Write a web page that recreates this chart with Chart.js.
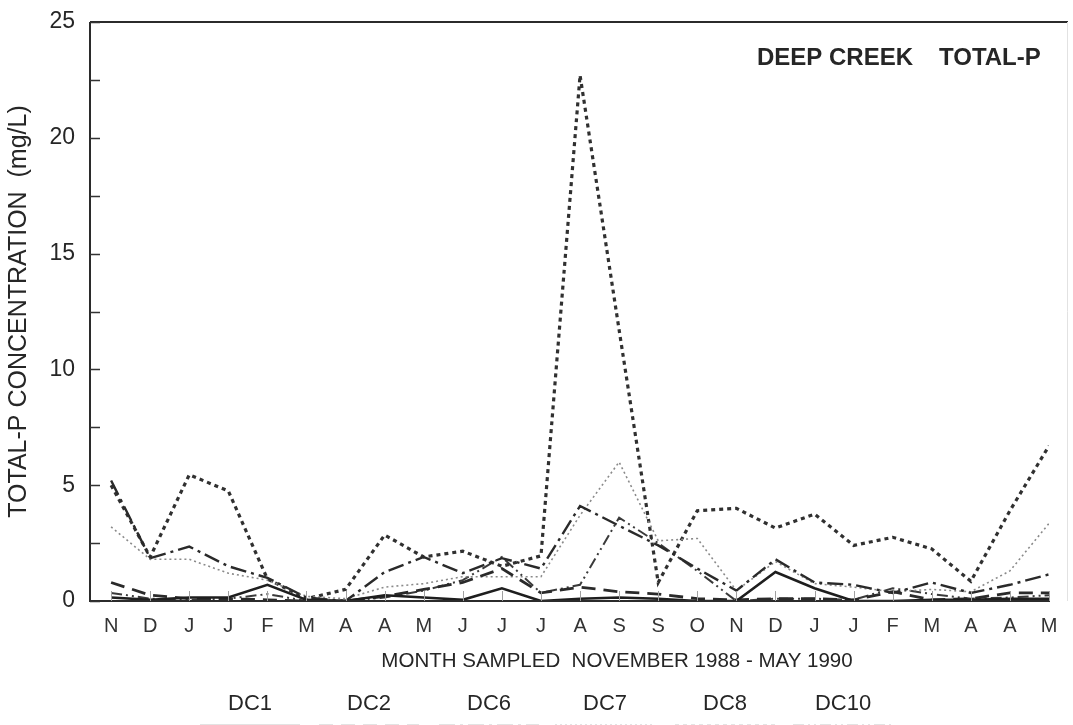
<!DOCTYPE html>
<html>
<head>
<meta charset="utf-8">
<title>Deep Creek Total-P</title>
<script src="https://cdn.jsdelivr.net/npm/chart.js@4.4.1/dist/chart.umd.min.js"></script>
<style>
  html, body { margin: 0; padding: 0; background: #ffffff; }
  #wrap { width: 1073px; height: 725px; position: relative; overflow: hidden; }
</style>
</head>
<body>
<div id="wrap"><canvas id="chart" width="1073" height="725"></canvas></div>
<script>
// Sampling months, November 1988 - May 1990
const months = ['N','D','J','J','F','M','A','A','M','J','J','J','A','S','S','O','N','D','J','J','F','M','A','A','M'];

// Total-P concentration (mg/L) per station
const dc1  = [0.15,0.05,0.15,0.15,0.7,0.05,0.0,0.25,0.15,0.05,0.55,0.0,0.1,0.15,0.1,0.0,0.0,1.25,0.55,0.0,0.0,0.05,0.05,0.1,0.1];
const dc2  = [0.8,0.25,0.1,0.1,0.05,0.0,0.0,0.2,0.5,0.8,1.4,0.35,0.6,0.4,0.3,0.1,0.05,0.1,0.1,0.05,0.4,0.05,0.1,0.35,0.35];
const dc6  = [5.2,1.85,2.35,1.5,1.0,0.15,0.0,1.25,1.9,1.2,1.85,1.4,4.1,3.25,2.4,1.4,0.45,1.8,0.8,0.7,0.35,0.8,0.35,0.7,1.15];
const dc7  = [3.2,1.8,1.8,1.2,0.9,0.2,0.1,0.6,0.75,1.05,1.05,1.05,3.7,6.0,2.6,2.7,0.45,1.7,0.75,0.6,0.4,0.5,0.4,1.3,3.35];
const dc8  = [5.0,1.9,5.45,4.75,0.95,0.1,0.5,2.85,1.9,2.15,1.5,1.95,22.7,11.7,0.8,3.9,4.0,3.15,3.75,2.4,2.75,2.25,0.85,3.9,6.7];
const dc10 = [0.35,0.1,0.05,0.1,0.3,0.0,0.0,0.15,0.45,0.9,1.9,0.35,0.7,3.6,2.5,1.3,0.0,0.1,0.1,0.05,0.55,0.3,0.1,0.15,0.25];

const stationNames = ['DC1','DC2','DC6','DC7','DC8','DC10'];
const yTicks = [0, 5, 10, 15, 20, 25];

const FONT = '"Liberation Sans", Arial, Helvetica, sans-serif';
const INK = '#262626';

function pts(arr) { return arr.map((v, i) => ({ x: i, y: v })); }

const styles = [
  { data: dc1,  color: '#1e1e1e', width: 2.6, dash: [] },
  { data: dc2,  color: '#2a2a2a', width: 2.8, dash: [14, 8] },
  { data: dc6,  color: '#2a2a2a', width: 2.4, dash: [16, 5, 3, 5] },
  { data: dc7,  color: '#8a8a8a', width: 1.6, dash: [2, 3] },
  { data: dc8,  color: '#303030', width: 3.2, dash: [4, 4] },
  { data: dc10, color: '#3a3a3a', width: 2.0, dash: [11, 4, 2, 4, 2, 4] }
];

const datasets = styles.map((s, k) => ({
  label: stationNames[k],
  data: pts(s.data),
  borderColor: s.color,
  borderWidth: s.width,
  borderDash: s.dash,
  borderCapStyle: 'butt',
  borderJoinStyle: 'miter',
  pointRadius: 0,
  tension: 0,
  fill: false
}));

// Frame, inward tick marks, heading and station key
const decorations = {
  id: 'decorations',
  afterDraw(chart) {
    const { ctx, chartArea: a, scales } = chart;
    const x = scales.x, y = scales.y;
    ctx.save();
    ctx.strokeStyle = '#2b2b2b';
    ctx.lineWidth = 2;
    ctx.beginPath();
    ctx.moveTo(a.left, a.top);
    ctx.lineTo(a.left, a.bottom);
    ctx.lineTo(a.right + 1, a.bottom);
    ctx.moveTo(a.left, a.top);
    ctx.lineTo(1068, a.top);
    ctx.stroke();
    ctx.strokeStyle = '#e2e2e2';
    ctx.lineWidth = 1;
    ctx.beginPath();
    ctx.moveTo(1067.5, a.top);
    ctx.lineTo(1067.5, a.bottom);
    ctx.stroke();

    // y ticks: majors every 5, minors every 2.5
    ctx.strokeStyle = '#333';
    ctx.lineWidth = 1.5;
    ctx.beginPath();
    for (let v = 0; v <= 25; v += 2.5) {
      const py = Math.round(y.getPixelForValue(v)) + 0.5;
      ctx.moveTo(a.left, py);
      ctx.lineTo(a.left + 10, py);
    }
    ctx.stroke();

    // x ticks
    ctx.strokeStyle = '#a0a0a0';
    ctx.lineWidth = 1;
    ctx.beginPath();
    months.forEach((m, i) => {
      const px = Math.round(x.getPixelForValue(i)) + 0.5;
      ctx.moveTo(px, a.bottom);
      ctx.lineTo(px, a.bottom - 10);
    });
    ctx.stroke();

    // heading
    ctx.fillStyle = INK;
    ctx.font = 'bold 24px ' + FONT;
    ctx.textBaseline = 'middle';
    ctx.textAlign = 'left';
    ctx.fillText('DEEP CREEK', 757, 58);
    ctx.fillText('TOTAL-P', 939, 58);

    // axis title under months
    ctx.font = '20.5px ' + FONT;
    ctx.textAlign = 'center';
    ctx.fillText('MONTH SAMPLED  NOVEMBER 1988 - MAY 1990', 617, 661);

    // station key
    const keyX = [250, 369, 489, 605, 725, 843];
    chart.data.datasets.forEach((ds, k) => {
      ctx.fillStyle = INK;
      ctx.font = '22px ' + FONT;
      ctx.textAlign = 'center';
      ctx.fillText(ds.label, keyX[k], 704);
      ctx.strokeStyle = '#c8c8c8';
      ctx.lineWidth = 2;
      ctx.setLineDash(ds.borderDash);
      ctx.beginPath();
      ctx.moveTo(keyX[k] - 50, 725.5);
      ctx.lineTo(keyX[k] + 50, 725.5);
      ctx.stroke();
      ctx.setLineDash([]);
    });
    ctx.restore();
  }
};

function zeroPad(s) {
  s.paddingTop = 0; s.paddingBottom = 0; s.paddingLeft = 0; s.paddingRight = 0;
}

new Chart(document.getElementById('chart'), {
  type: 'line',
  data: { datasets },
  options: {
    responsive: false,
    animation: false,
    devicePixelRatio: 1,
    layout: { padding: { left: 0, top: 22, right: 24, bottom: 0 } },
    plugins: { legend: { display: false }, tooltip: { enabled: false } },
    scales: {
      x: {
        type: 'linear',
        min: -0.54,
        max: 24,
        afterBuildTicks: (s) => { s.ticks = months.map((m, i) => ({ value: i })); },
        afterFit: (s) => { s.height = 124; zeroPad(s); },
        grid: { display: false, drawTicks: false },
        border: { display: false },
        ticks: {
          autoSkip: false,
          maxRotation: 0,
          padding: 13,
          color: '#333',
          font: { family: FONT, size: 20 },
          callback: (v) => months[v]
        }
      },
      y: {
        type: 'linear',
        min: 0,
        max: 25,
        afterBuildTicks: (s) => { s.ticks = yTicks.map(v => ({ value: v })); },
        afterFit: (s) => { s.width = 90; zeroPad(s); },
        grid: { display: false, drawTicks: false },
        border: { display: false },
        ticks: {
          padding: 15,
          color: INK,
          font: { family: FONT, size: 23 }
        },
        title: {
          display: true,
          text: 'TOTAL-P CONCENTRATION  (mg/L)',
          color: INK,
          font: { family: FONT, size: 25 },
          padding: { top: 4, bottom: 0 }
        }
      }
    }
  },
  plugins: [decorations]
});
</script>
</body>
</html>
